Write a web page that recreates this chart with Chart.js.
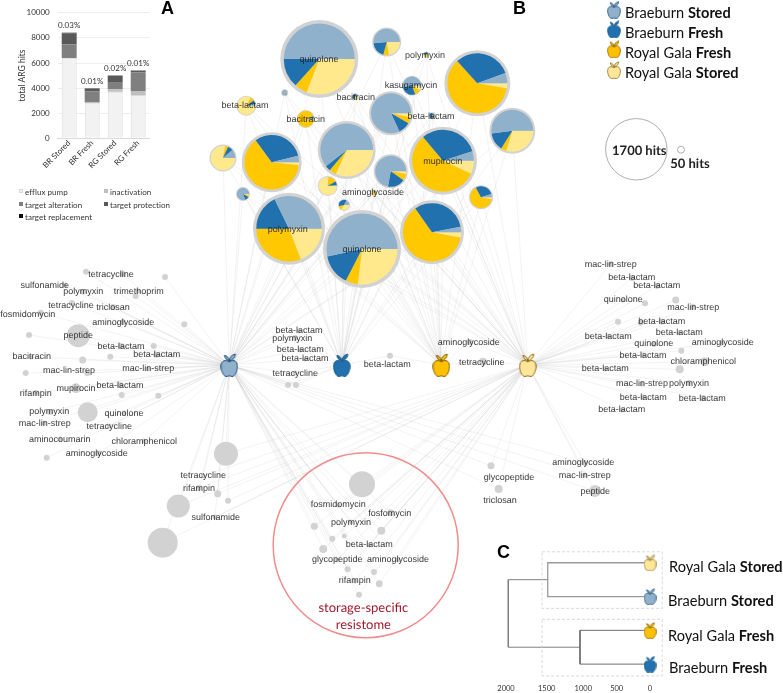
<!DOCTYPE html>
<html lang="en">
<head>
  <meta charset="UTF-8">
  <title>Apple resistome figure</title>
  <script src="https://cdn.jsdelivr.net/npm/chart.js"></script>
  <style>
    html, body { margin: 0; padding: 0; background: #fff; }
    #page { position: relative; width: 783px; height: 693px; overflow: hidden; }
    canvas { position: absolute; }
    #net { left: 0; top: 0; }
    #bars { left: 0; top: 0; }
    #tree { left: 490px; top: 530px; }
    .panel { position: absolute; font: bold 18px "Liberation Sans", sans-serif; color: #000; line-height: 18px; }
    .name { position: absolute; font: 14.6px Lato, sans-serif; color: #111; white-space: nowrap; line-height: 16px; }
    .key { position: absolute; font: 8px Lato, sans-serif; color: #333; white-space: nowrap; line-height: 10px; letter-spacing: .05px; }
    .key i { position: absolute; left: -6px; top: 2px; width: 4px; height: 4px; box-sizing: border-box; }
  </style>
</head>
<body>
<div id="page">
  <canvas id="net" width="783" height="693"></canvas>
  <canvas id="bars" width="200" height="185"></canvas>
  <canvas id="tree" width="293" height="163"></canvas>
  <div class="panel" style="left:161px;top:-1px">A</div>
  <div class="panel" style="left:513px;top:-1px">B</div>
  <div class="panel" style="left:497px;top:543px">C</div>
  <div class="name" style="left:625px;top:5px">Braeburn <b>Stored</b></div>
  <div class="name" style="left:625px;top:25px">Braeburn <b>Fresh</b></div>
  <div class="name" style="left:625px;top:45px">Royal Gala <b>Fresh</b></div>
  <div class="name" style="left:625px;top:65px">Royal Gala <b>Stored</b></div>
  <div class="name" style="left:669px;top:559px">Royal Gala <b>Stored</b></div>
  <div class="name" style="left:668px;top:593px">Braeburn <b>Stored</b></div>
  <div class="name" style="left:668px;top:628px">Royal Gala <b>Fresh</b></div>
  <div class="name" style="left:669px;top:660px">Braeburn <b>Fresh</b></div>
  <div id="barKey"></div>
</div>

<script>
  // panel A
  const samples = ['BR Stored', 'BR Fresh', 'RG Stored', 'RG Fresh'];
  const efflux = [6370, 2830, 3710, 3450];
  const inactivation = [30, 20, 190, 320];
  const alteration = [1100, 900, 530, 1480];
  const protection = [880, 210, 560, 130];
  const replacement = [40, 20, 10, 20];
  const percentOfReads = ['0.03%', '0.01%', '0.02%', '0.01%'];
  const yTicksA = [0, 2000, 4000, 6000, 8000, 10000];

  // panel B, hubs in the order Braeburn stored, Braeburn fresh, Royal Gala fresh, Royal Gala stored
  const hubX = [229.3, 341.7, 441.3, 527.7];
  const hubY = [365, 365, 365, 365];
  const legendAppleX = [614, 614, 614, 614];
  const legendAppleY = [9.7, 29.3, 49.3, 70];

  const pieX = [319.3, 386.7, 426.3, 477.3, 412, 284.7, 355.3, 246.3, 305.7, 391, 432.3, 512.3, 346.7, 443, 271.7, 223, 390.7, 327.7, 243, 481, 374, 344, 289, 362, 432];
  const pieY = [59, 42, 54.5, 83.3, 85.7, 92.7, 96.7, 105.7, 119, 113.3, 115.7, 130.7, 150, 160.7, 162.3, 158, 171.3, 186, 194, 197.3, 192.7, 205, 228.7, 249, 232.3];
  const pieR = [39, 14.5, 3, 33, 10, 3.5, 3.5, 10, 9, 22, 3.5, 23, 29, 34, 30, 13.5, 17, 10, 7, 12, 3, 6, 36, 39, 32];
  // share of hits per node, degrees clockwise from 3 o'clock: RG stored, RG fresh, BR fresh, BR stored
  const pieRS = [111, 80, 20, 10, 30, 10, 20, 300, 5, 12, 20, 107, 115, 25, 6, 280, 10, 275, 15, 12, 20, 125, 69, 97, 11];
  const pieRF = [21, 25, 150, 218, 40, 20, 90, 25, 335, 18, 60, 15, 15, 205, 228, 15, 25, 55, 15, 230, 250, 45, 111, 20, 224];
  const pieBF = [48, 70, 160, 112, 100, 20, 190, 25, 15, 35, 200, 50, 12, 112, 112, 25, 65, 25, 40, 100, 60, 130, 64, 51, 114];
  const pieBS = [180, 185, 30, 20, 190, 310, 60, 10, 5, 295, 80, 188, 218, 18, 14, 40, 260, 5, 290, 18, 30, 60, 116, 192, 11];

  const dotX = [86, 165, 122.7, 65, 83, 135.7, 138, 72, 113, 40.7, 123, 184.3, 29, 78.3, 153.7, 121, 110.3, 156, 82.7, 31, 25.7, 87.3, 148, 76, 120, 36, 121.7, 158.3, 87.7, 50, 124, 44, 109, 60, 144, 46.7, 98.3,
    299, 295, 300, 305, 295, 288, 296, 390, 470, 483,
    611, 632, 657, 645, 623, 675.7, 693, 618, 640.7, 661.7, 679, 608, 654, 722, 681.3, 643, 704.7, 679.7, 605, 642, 689, 643, 703, 622,
    226, 217.7, 228, 178.3, 162.7, 203, 199, 215,
    362, 338, 390.7, 314.3, 351, 381.3, 332.3, 344.3, 369, 323.3, 337, 398, 347.7, 374, 379.3, 355, 359,
    491, 498.7, 585, 585, 595];
  const dotY = [271.7, 277, 274, 285, 291.7, 296, 291, 303, 307, 312.7, 322, 324.3, 335, 335.7, 346, 346, 356.7, 355, 360, 357, 373, 373.3, 369, 388.3, 385, 393, 395, 395.7, 412.3, 412, 413, 423, 426, 439, 441, 457.7, 453.3,
    331, 338, 350, 359, 373, 385, 385, 355.7, 342, 361.7,
    264, 278, 286, 303.3, 300, 300, 307, 321.7, 322.7, 321.7, 333, 336, 344, 343, 350.7, 355, 361.7, 369.3, 369, 384, 383, 397, 398, 410,
    453.7, 493.7, 500.7, 506, 542.7, 476, 488, 517,
    484.3, 505, 512.7, 526.3, 522, 530.7, 538.7, 536, 545, 549, 560, 560, 569.3, 572, 583.7, 581, 594.7,
    465.7, 489, 463, 475, 491];
  const dotR = [3, 3, 3, 2.5, 3, 3, 2.5, 3, 3, 3, 3, 3, 3, 11.5, 3, 3, 3, 3, 3.5, 2.5, 3, 3, 2.5, 5, 3, 3, 3, 3, 10, 3, 2.5, 2.5, 2.5, 2.5, 2.5, 3, 3,
    2.5, 3, 2.5, 2.5, 2.5, 3, 3, 3, 3, 4,
    3, 3, 3, 3, 2.5, 3.5, 3, 3, 3, 3, 2.5, 2.5, 3, 2.5, 3, 2.5, 4.5, 4, 2.5, 2.5, 3, 2.5, 3, 2.5,
    12, 3.5, 3, 11.5, 15, 2.5, 3, 2.5,
    13, 2.5, 3.5, 3.5, 2.5, 4, 3, 2.5, 2.5, 4, 2.5, 2.5, 3, 3, 3.5, 2.5, 3,
    3.5, 4, 3, 2.5, 6];
  // hubs each dot is linked to, as digits into hubX
  const dotHubs = [
    ...Array(37).fill('0'),
    '01', '01', '01', '01', '01', '01', '01', '12', '23', '23',
    ...Array(24).fill('3'),
    ...Array(8).fill('03'),
    ...Array(17).fill('03'),
    ...Array(5).fill('03')
  ];

  const labelText = ['quinolone', 'polymyxin', 'kasugamycin', 'bacitracin', 'beta-lactam', 'bacitracin', 'beta-lactam', 'mupirocin', 'aminoglycoside', 'polymyxin', 'quinolone',
    'tetracycline', 'sulfonamide', 'polymyxin', 'trimethoprim', 'tetracycline', 'triclosan', 'fosmidomycin', 'aminoglycoside', 'peptide', 'beta-lactam', 'beta-lactam', 'bacitracin', 'mac-lin-strep', 'mac-lin-strep', 'beta-lactam', 'mupirocin', 'rifampin', 'polymyxin', 'quinolone', 'mac-lin-strep', 'tetracycline', 'aminocoumarin', 'chloramphenicol', 'aminoglycoside', 'tetracycline', 'rifampin', 'sulfonamide',
    'beta-lactam', 'polymyxin', 'beta-lactam', 'beta-lactam', 'tetracycline', 'beta-lactam', 'aminoglycoside', 'tetracycline',
    'mac-lin-strep', 'beta-lactam', 'beta-lactam', 'quinolone', 'mac-lin-strep', 'beta-lactam', 'beta-lactam', 'beta-lactam', 'quinolone', 'aminoglycoside', 'beta-lactam', 'chloramphenicol', 'beta-lactam', 'mac-lin-strep', 'polymyxin', 'beta-lactam', 'beta-lactam', 'beta-lactam', 'aminoglycoside', 'mac-lin-strep', 'peptide',
    'glycopeptide', 'triclosan', 'fosmidomycin', 'fosfomycin', 'polymyxin', 'beta-lactam', 'glycopeptide', 'aminoglycoside', 'rifampin'];
  const labelX = [319, 425, 411, 355.7, 245, 305.7, 431, 442.7, 373, 287.7, 362,
    111, 44.7, 83.3, 138.7, 71, 113, 27.7, 123.3, 78.3, 121, 156.7, 31.7, 69, 148.3, 120, 76, 35.7, 49.3, 124, 44.7, 109.3, 59.7, 144.3, 96.7, 203.3, 199, 215.7,
    299, 292.3, 300.3, 305, 295.3, 387.3, 468.7, 481.7,
    610.7, 631.7, 656.7, 623.3, 693.3, 661.7, 679.3, 608.3, 653.7, 722.7, 643, 703.3, 605.3, 642, 689, 643.3, 702.3, 621.7, 583.3, 584.7, 595.3,
    509, 500, 338.3, 389.7, 351, 369.3, 337.3, 398, 354.7];
  const labelY = [60, 55.7, 86, 97.7, 106, 119.7, 117, 161.7, 192.7, 230, 250,
    274.3, 285.3, 291.3, 291.3, 305.3, 307.7, 315, 322.3, 336, 346.3, 355, 357, 371, 369, 385.7, 389, 393.3, 411.3, 413.3, 423.3, 426.7, 439.3, 441.3, 454, 476, 488.7, 517.7,
    330.7, 339, 350, 359, 373.3, 364.3, 342.3, 362.7,
    264.7, 278, 286, 299.7, 307.3, 321.7, 333, 336.3, 343.7, 343, 355.7, 361.7, 369, 384, 383.3, 397.7, 398.3, 410, 462.7, 475.7, 491.7,
    478, 501, 505, 514, 522.3, 544.7, 560, 559.7, 580.7];

  const scaleCircleX = [636.3, 681];
  const scaleCircleY = [149.3, 149.7];
  const scaleCircleR = [30.7, 3.5];
  const scaleText = ['1700 hits', '50 hits'];
  const scaleTextX = [639.3, 690];
  const scaleTextY = [151, 164.3];

  // panel C, leaves listed top to bottom
  const treeLeaves = [0, 1, 2, 3];
  const storedX = [0, 1420, 1420, 0];
  const storedY = [0, 0, 1, 1];
  const freshX = [0, 972, 972, 0];
  const freshY = [2, 2, 3, 3];
  const rootX = [1420, 1968, 1968, 972];
  const rootY = [0.5, 0.5, 2.5, 2.5];
  // tick marks in the reference are not evenly spaced, so positions and labels are kept apart
  const treeTickAt = [0, 463, 926, 1435, 2000];
  const treeTickLabel = ['0', '500', '1000', '1500', '2000'];

  const hubFill = ['#8FB1CC', '#2171AE', '#FFC000', '#FFE699'];
  const hubLine = ['#1F4E79', '#1B5A8C', '#7F6000', '#8A6D1F'];
  const sliceFill = ['#FFE98C', '#FFC800', '#2171AE', '#8FB1CC'];

  function appleCanvas(fill, line, w, h) {
    const c = document.createElement('canvas');
    c.width = w; c.height = h;
    const g = c.getContext('2d');
    g.scale(w / 18, h / 24);
    g.lineWidth = 1;
    g.strokeStyle = line;
    g.fillStyle = fill;
    g.lineJoin = 'round';
    g.beginPath();
    g.moveTo(9, 9);
    g.bezierCurveTo(6, 6.5, 1, 7, 0.8, 13);
    g.bezierCurveTo(0.6, 18, 3.5, 23.5, 6, 23.5);
    g.bezierCurveTo(7.3, 23.5, 8, 22.8, 9, 22.8);
    g.bezierCurveTo(10, 22.8, 10.7, 23.5, 12, 23.5);
    g.bezierCurveTo(14.5, 23.5, 17.4, 18, 17.2, 13);
    g.bezierCurveTo(17, 7, 12, 6.5, 9, 9);
    g.closePath();
    g.fill(); g.stroke();
    g.beginPath();
    g.moveTo(9, 8);
    g.quadraticCurveTo(5, 7, 4, 2.5);
    g.quadraticCurveTo(8, 2.5, 9, 8);
    g.moveTo(9, 8);
    g.quadraticCurveTo(9.5, 2.5, 15, 1);
    g.quadraticCurveTo(15, 6, 9, 8);
    g.fill(); g.stroke();
    return c;
  }

  const hubApples = hubFill.map((f, i) => appleCanvas(f, hubLine[i], 18, 24));
  const keyApples = hubFill.map((f, i) => appleCanvas(f, hubLine[i], 14, 18));
  const treeApples = [3, 0, 2, 1].map(i => appleCanvas(hubFill[i], hubLine[i], 13, 17));

  // edges, one dataset each so overlapping lines build up darker like the reference
  const edges = [];
  function addEdge(x, y, hub) {
    edges.push({
      type: 'scatter', showLine: true, order: 9,
      data: [{ x: x, y: y }, { x: hubX[hub], y: hubY[hub] }],
      borderColor: 'rgba(150,150,150,0.17)', borderWidth: 0.7, pointRadius: 0
    });
  }
  dotX.forEach((x, i) => dotHubs[i].split('').forEach(h => addEdge(x, dotY[i], +h)));
  pieX.forEach((x, i) => {
    [pieBS[i], pieBF[i], pieRF[i], pieRS[i]].forEach((share, h) => { if (share > 0) addEdge(x, pieY[i], h); });
  });

  const piesPlugin = {
    id: 'pies',
    afterDatasetDraw(chart, args) {
      if (chart.data.datasets[args.index].label !== 'pies') return;
      const ctx = chart.ctx;
      args.meta.data.forEach((el, i) => {
        const ring = Math.max(0.8, pieR[i] * 0.09);
        const r = pieR[i] - ring;
        const shares = [pieRS[i], pieRF[i], pieBF[i], pieBS[i]];
        const total = shares.reduce((a, b) => a + b, 0);
        let a = 0;
        shares.forEach((s, k) => {
          const next = a + s / total * Math.PI * 2;
          ctx.beginPath();
          ctx.moveTo(el.x, el.y);
          ctx.arc(el.x, el.y, r, a, next);
          ctx.closePath();
          ctx.fillStyle = sliceFill[k];
          ctx.fill();
          a = next;
        });
      });
    }
  };

  const netLabels = {
    id: 'netLabels',
    afterDatasetsDraw(chart) {
      const ctx = chart.ctx, sx = chart.scales.x, sy = chart.scales.y;
      ctx.save();
      ctx.textRendering = 'geometricPrecision';
      ctx.textAlign = 'center';
      ctx.textBaseline = 'middle';
      ctx.font = '9px "Liberation Sans", sans-serif';
      ctx.fillStyle = 'rgba(30,30,30,0.9)';
      labelText.forEach((t, i) => ctx.fillText(t, sx.getPixelForValue(labelX[i]), sy.getPixelForValue(labelY[i])));
      ctx.font = 'bold 13px Lato, sans-serif';
      ctx.fillStyle = '#222';
      scaleText.forEach((t, i) => ctx.fillText(t, sx.getPixelForValue(scaleTextX[i]), sy.getPixelForValue(scaleTextY[i])));
      ctx.font = '13px Lato, sans-serif';
      ctx.fillStyle = '#A01C30';
      ctx.fillText('storage-specific', sx.getPixelForValue(363.3), sy.getPixelForValue(607.7));
      ctx.fillText('resistome', sx.getPixelForValue(363.3), sy.getPixelForValue(624.7));
      ctx.restore();
    }
  };

  new Chart(document.getElementById('net'), {
    type: 'bubble',
    data: {
      datasets: [
        ...edges,
        {
          label: 'dots', order: 5,
          data: dotX.map((x, i) => ({ x: x, y: dotY[i], r: dotR[i] })),
          backgroundColor: '#D2D2D2', borderWidth: 0
        },
        {
          label: 'pies', order: 4,
          data: pieX.map((x, i) => ({ x: x, y: pieY[i], r: pieR[i] })),
          backgroundColor: '#D2D2D2', borderWidth: 0
        },
        {
          label: 'scale', order: 4,
          data: scaleCircleX.map((x, i) => ({ x: x, y: scaleCircleY[i], r: scaleCircleR[i] })),
          backgroundColor: 'transparent', borderColor: '#9a9a9a', borderWidth: 0.8
        },
        {
          label: 'storage-specific', order: 4,
          data: [{ x: 365.7, y: 545.3, r: 92.5 }],
          backgroundColor: 'transparent', borderColor: '#F08C8C', borderWidth: 1.5
        },
        {
          type: 'scatter', label: 'hubs', order: 1,
          data: hubX.map((x, i) => ({ x: x, y: hubY[i] })),
          pointStyle: hubApples, pointRadius: 6
        },
        {
          type: 'scatter', label: 'legend', order: 1,
          data: legendAppleX.map((x, i) => ({ x: x, y: legendAppleY[i] })),
          pointStyle: keyApples, pointRadius: 6
        }
      ]
    },
    options: {
      responsive: false,
      animation: false,
      events: [],
      layout: { padding: 0, autoPadding: false },
      scales: {
        x: { type: 'linear', min: 0, max: 783, display: false },
        y: { type: 'linear', min: 0, max: 693, reverse: true, display: false }
      },
      plugins: { legend: { display: false }, tooltip: { enabled: false } }
    },
    plugins: [piesPlugin, netLabels]
  });

  const barSeries = [
    { label: 'efflux pump', data: efflux, backgroundColor: '#F2F2F2', borderColor: '#D9D9D9', borderWidth: 1 },
    { label: 'inactivation', data: inactivation, backgroundColor: '#BFBFBF' },
    { label: 'target alteration', data: alteration, backgroundColor: '#7F7F7F' },
    { label: 'target protection', data: protection, backgroundColor: '#595959' },
    { label: 'target replacement', data: replacement, backgroundColor: '#0D0D0D' }
  ];

  const percentLabels = {
    id: 'percentLabels',
    afterDatasetsDraw(chart) {
      const ctx = chart.ctx, sx = chart.scales.x, sy = chart.scales.y;
      ctx.save();
      ctx.font = '8px Lato, sans-serif';
      ctx.fillStyle = '#333';
      ctx.textAlign = 'center';
      ctx.textBaseline = 'middle';
      samples.forEach((s, i) => {
        const total = barSeries.reduce((sum, d) => sum + d.data[i], 0);
        ctx.fillText(percentOfReads[i], sx.getPixelForValue(i), sy.getPixelForValue(total) - 7);
      });
      ctx.restore();
    }
  };

  new Chart(document.getElementById('bars'), {
    type: 'bar',
    data: { labels: samples, datasets: barSeries },
    options: {
      responsive: false,
      animation: false,
      events: [],
      layout: { padding: { top: 12.7, right: 50.3, left: 0, bottom: 0 } },
      datasets: { bar: { categoryPercentage: 1, barPercentage: 0.65 } },
      scales: {
        x: {
          stacked: true,
          grid: { display: false, drawTicks: false },
          border: { color: '#D9D9D9' },
          ticks: { color: '#333', font: { family: 'Lato', size: 8 }, minRotation: 45, maxRotation: 45, padding: 0 },
          afterFit(s) { s.height = 46.7; }
        },
        y: {
          stacked: true,
          min: 0, max: 10000,
          afterBuildTicks(s) { s.ticks = yTicksA.map(v => ({ value: v })); },
          grid: { color: '#EEEEEE', drawTicks: false },
          border: { display: false },
          ticks: { color: '#333', font: { family: 'Lato', size: 8 }, padding: 8, callback: v => String(v) },
          title: { display: true, text: 'total ARG hits', color: '#333', font: { family: 'Lato', size: 8.5 }, padding: { top: 17, bottom: 0 } },
          afterFit(s) { s.width = 57.7; }
        }
      },
      plugins: { legend: { display: false }, tooltip: { enabled: false } }
    },
    plugins: [percentLabels]
  });

  // legend of panel A, two columns then the last entry alone
  const barKeyLeft = [25, 110, 25, 110, 25];
  const barKeyTop = [187, 187, 199.5, 199.5, 212];
  barSeries.forEach((d, i) => {
    const el = document.createElement('div');
    el.className = 'key';
    el.style.left = barKeyLeft[i] + 'px';
    el.style.top = barKeyTop[i] + 'px';
    el.innerHTML = '<i style="background:' + d.backgroundColor + ';border:1px solid ' + (d.borderColor || d.backgroundColor) + '"></i>' + d.label;
    document.getElementById('barKey').appendChild(el);
  });

  const treeLine = (xs, ys, color, width, dash) => ({
    type: 'scatter', showLine: true,
    data: xs.map((x, i) => ({ x: x, y: ys[i] })),
    borderColor: color, borderWidth: width, borderDash: dash || [], pointRadius: 0, order: 3
  });

  new Chart(document.getElementById('tree'), {
    type: 'scatter',
    data: {
      datasets: [
        treeLine([1500, -170, -170, 1500, 1500], [-0.325, -0.325, 1.35, 1.35, -0.325], '#CFCFCF', 0.8, [3, 2]),
        treeLine([1500, -170, -170, 1500, 1500], [1.675, 1.675, 3.35, 3.35, 1.675], '#CFCFCF', 0.8, [3, 2]),
        treeLine(storedX, storedY, '#9A9A9A', 1.3),
        treeLine(freshX, freshY, '#6E6E6E', 1),
        treeLine(rootX, rootY, '#808080', 1),
        {
          type: 'scatter', order: 1,
          data: treeLeaves.map(y => ({ x: 0, y: y })),
          pointStyle: treeApples, pointRadius: 6
        }
      ]
    },
    options: {
      responsive: false,
      animation: false,
      events: [],
      layout: { padding: 0, autoPadding: false },
      scales: {
        x: {
          type: 'linear', reverse: true, min: -1847, max: 2222,
          afterBuildTicks(s) { s.ticks = treeTickAt.map(v => ({ value: v })); },
          grid: { display: false, tickColor: '#222', tickLength: 2 },
          border: { display: false },
          ticks: {
            color: '#333', font: { family: 'Lato', size: 7.5 }, padding: 2, maxRotation: 0,
            callback(v) { return treeTickLabel[treeTickAt.indexOf(v)]; }
          },
          afterFit(s) { s.height = 13; }
        },
        y: { type: 'linear', reverse: true, min: -0.97, max: 3.47, display: false }
      },
      plugins: { legend: { display: false }, tooltip: { enabled: false } }
    }
  });
</script>
</body>
</html>
